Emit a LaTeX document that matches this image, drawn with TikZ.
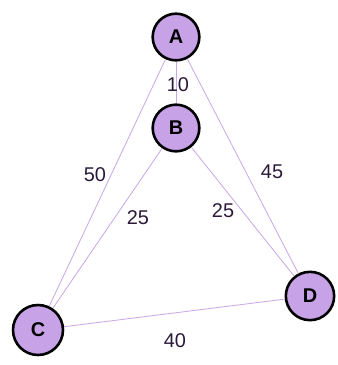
\documentclass[tikz,border=0pt]{standalone}
\usepackage{fontspec}
\setmainfont{Liberation Sans}
\usepackage{tikz}
\usetikzlibrary{positioning}
\definecolor{vfill}{HTML}{C8A2E6}
\definecolor{vedge}{HTML}{C9A8E6}
\definecolor{vtext}{HTML}{2A1A38}

\begin{document}
\begin{tikzpicture}[x=0.03cm,y=-0.03cm,
  vert/.style={circle,draw=black,line width=2.2pt,fill=vfill,minimum size=1.4cm,inner sep=0pt,font=\fontsize{17}{17}\selectfont\bfseries},
  wedge/.style={vedge,line width=0.7pt},
  wlabel/.style={font=\fontsize{17}{17}\selectfont,text=vtext}]
\useasboundingbox (0,0) rectangle (338,365);
\node[vert] (A) at (176,37) {A};
\node[vert] (B) at (176,128) {B};
\node[vert,minimum size=1.5cm] (C) at (38,330) {C};
\node[vert,minimum size=1.45cm] (D) at (310,296) {D};
\draw[wedge] (A) -- (B);
\draw[wedge] (A) -- (C);
\draw[wedge] (A) -- (D);
\draw[wedge] (B) -- (C);
\draw[wedge] (B) -- (D);
\draw[wedge] (C) -- (D);
\node[wlabel] (lab) at (178,85) {10};
\node[wlabel] (lac) at (95,175) {50};
\node[wlabel] (lad) at (272,172) {45};
\node[wlabel] (lbc) at (138,218) {25};
\node[wlabel] (lbd) at (223,211) {25};
\node[wlabel] (lcd) at (175,341) {40};
\end{tikzpicture}
\end{document}
